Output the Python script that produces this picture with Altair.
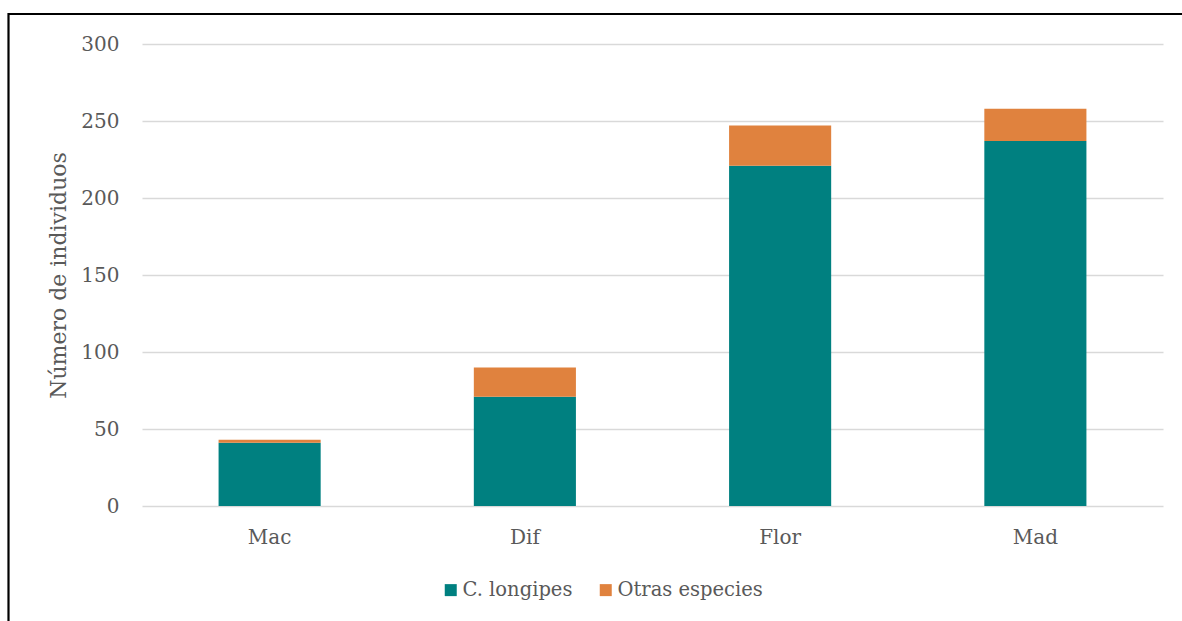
import altair as alt
import pandas as pd

# Stage categories and counts per group
stages = ["Mac", "Dif", "Flor", "Mad"]
c_longipes = [41, 71, 221, 237]
otras_especies = [2, 19, 26, 21]
series_names = ["C. longipes", "Otras especies"]
series_colors = ["#008080", "#E0823E"]
y_ticks = [0, 50, 100, 150, 200, 250, 300]

rows = []
for i, stage in enumerate(stages):
    rows.append({"Etapa": stage, "Grupo": series_names[0], "Individuos": c_longipes[i], "orden": 0})
    rows.append({"Etapa": stage, "Grupo": series_names[1], "Individuos": otras_especies[i], "orden": 1})
df = pd.DataFrame(rows)

FONT = "DejaVu Serif"
TEXT = "#595959"
PLOT_W, PLOT_H = 1021, 462

bars = alt.Chart(df).mark_bar().encode(
    x=alt.X(
        "Etapa:N",
        sort=stages,
        scale=alt.Scale(paddingInner=0.6, paddingOuter=0.3),
        axis=alt.Axis(
            title=None, labelAngle=0, ticks=False, domain=False,
            labelFont=FONT, labelFontSize=20, labelColor=TEXT, labelPadding=21,
        ),
    ),
    y=alt.Y(
        "Individuos:Q",
        stack="zero",
        scale=alt.Scale(domain=[0, 300], nice=False),
        axis=alt.Axis(
            values=y_ticks, title="Número de individuos", ticks=False, domain=False,
            grid=True, gridColor="#D9D9D9", gridWidth=1.4,
            labelFont=FONT, labelFontSize=20, labelColor=TEXT, labelPadding=23,
            titleFont=FONT, titleFontSize=22, titleColor=TEXT, titleFontWeight="normal",
            titleAngle=-90, titleX=-84, titleY=231, titleAlign="center", titleBaseline="middle",
        ),
    ),
    color=alt.Color(
        "Grupo:N",
        scale=alt.Scale(domain=series_names, range=series_colors),
        legend=alt.Legend(
            title=None, orient="none", direction="horizontal",
            legendX=299, legendY=536, padding=0,
            symbolType="square", symbolSize=144, symbolStrokeWidth=0,
            labelFont=FONT, labelFontSize=19.5, labelColor=TEXT,
            labelOffset=2, columnPadding=23,
        ),
    ),
    order=alt.Order("orden:Q"),
)

# Frame around the whole figure
frame_src = alt.Chart(pd.DataFrame({"k": [0]}))
frame_top = frame_src.mark_rule(color="black", strokeWidth=2.2).encode(
    x=alt.value(-134), x2=alt.value(1100), y=alt.value(-30)
)
frame_left = frame_src.mark_rule(color="black", strokeWidth=2.2).encode(
    x=alt.value(-133.5), y=alt.value(-31), y2=alt.value(700)
)

chart = (
    alt.layer(bars, frame_top, frame_left)
    .properties(
        width=PLOT_W,
        height=PLOT_H,
        autosize=alt.AutoSizeParams(type="none"),
        padding={"left": 142, "top": 44, "right": 19, "bottom": 115},
        background="white",
    )
    .configure_view(stroke=None)
    .configure_legend(labelFont=FONT, labelFontSize=19.5, labelColor=TEXT)
)

chart.save("out.html", embed_options={"renderer": "svg", "actions": False})
